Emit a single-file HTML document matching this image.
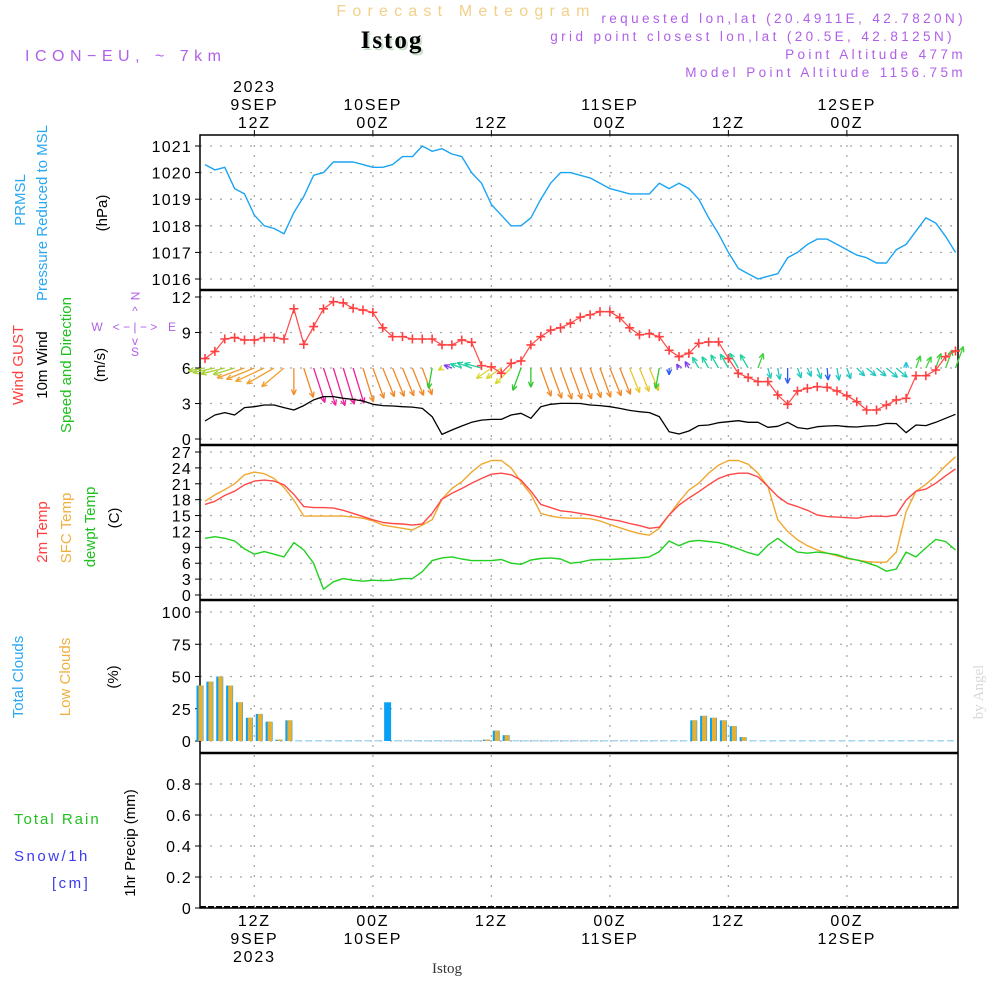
<!DOCTYPE html>
<html><head><meta charset="utf-8"><title>Forecast Meteogram - Istog</title>
<style>
html,body{margin:0;padding:0;background:#fff;}
body{width:1000px;height:1000px;overflow:hidden;}
svg text{font-family:"Liberation Sans",sans-serif;}
</style></head>
<body>
<svg id="chart" width="1000" height="1000" viewBox="0 0 1000 1000" xmlns="http://www.w3.org/2000/svg">
  <text x="466" y="16" text-anchor="middle" font-size="16" fill="#f3d08a" letter-spacing="6.2">Forecast Meteogram</text>
  <text x="394" y="50" text-anchor="middle" font-size="25" font-weight="bold" fill="#c8dcc8" letter-spacing="2" style="font-family:'Liberation Serif',serif">Istog</text>
  <text x="392" y="48" text-anchor="middle" font-size="25" font-weight="bold" fill="#000" letter-spacing="2" style="font-family:'Liberation Serif',serif">Istog</text>
  <text x="25" y="61" font-size="16" fill="#b060e8" letter-spacing="5.5">ICON−EU, ~ 7km</text>
  <g font-size="13.5" fill="#b060e8" text-anchor="end" letter-spacing="3.4">
    <text x="966" y="23">requested lon,lat (20.4911E, 42.7820N)</text>
    <text x="955" y="41">grid point closest lon,lat (20.5E, 42.8125N)</text>
    <text x="966" y="59">Point Altitude 477m</text>
    <text x="966" y="77">Model Point Altitude 1156.75m</text>
  </g>
  <g font-size="15">
    <text transform="translate(25,200) rotate(-90)" text-anchor="middle" fill="#2aa8f0">PRMSL</text>
    <text transform="translate(47,213) rotate(-90)" text-anchor="middle" fill="#2aa8f0">Pressure Reduced to MSL</text>
    <text transform="translate(107,213) rotate(-90)" text-anchor="middle" fill="#000">(hPa)</text>
    <text transform="translate(23,365) rotate(-90)" text-anchor="middle" fill="#ff4040">Wind GUST</text>
    <text transform="translate(47,365) rotate(-90)" text-anchor="middle" fill="#000">10m Wind</text>
    <text transform="translate(71,365) rotate(-90)" text-anchor="middle" fill="#20c020">Speed and Direction</text>
    <text transform="translate(105,365) rotate(-90)" text-anchor="middle" fill="#000">(m/s)</text>
    <text transform="translate(47,532) rotate(-90)" text-anchor="middle" fill="#ff4040">2m Temp</text>
    <text transform="translate(71,528) rotate(-90)" text-anchor="middle" fill="#f0b040">SFC Temp</text>
    <text transform="translate(95,527) rotate(-90)" text-anchor="middle" fill="#20c020">dewpt Temp</text>
    <text transform="translate(119,518) rotate(-90)" text-anchor="middle" fill="#000">(C)</text>
    <text transform="translate(23,677) rotate(-90)" text-anchor="middle" fill="#2aa8f0">Total Clouds</text>
    <text transform="translate(70,677) rotate(-90)" text-anchor="middle" fill="#f0b040">Low Clouds</text>
    <text transform="translate(118,677) rotate(-90)" text-anchor="middle" fill="#000">(%)</text>
    <text x="14" y="824" fill="#20c020" letter-spacing="2">Total  Rain</text>
    <text x="14" y="861" fill="#3a3af0" letter-spacing="2.5">Snow/1h</text>
    <text x="52" y="888" fill="#3a3af0" letter-spacing="2.5">[cm]</text>
    <text transform="translate(135,843) rotate(-90)" text-anchor="middle" fill="#000">1hr Precip (mm)</text>
  </g>
  <g fill="#b060e8" font-size="12" text-anchor="middle">
    <text transform="translate(135,296) rotate(90)" text-anchor="middle" y="4">N</text>
    <text x="135" y="315">^</text>
    <text x="135" y="331">&lt; − | − &gt;</text>
    <text x="97" y="331">W</text>
    <text x="172" y="331">E</text>
    <text x="135" y="345">v</text>
    <text x="135" y="356">S</text>
  </g>
  <text x="447" y="973" text-anchor="middle" font-size="15" fill="#333" style="font-family:'Liberation Serif',serif">Istog</text>
  <text transform="translate(983,692) rotate(-90)" text-anchor="middle" font-size="15" fill="#d8d8d8" style="font-family:'Liberation Serif',serif">by Angel</text>
  <g id="plot"></g>
</svg>
<script>
// ---- data (hourly, starting 9 SEP 07Z) ----
const pressure = [1020.3,1020.1,1020.2,1019.4,1019.2,1018.4,1018.0,1017.9,1017.7,1018.5,1019.1,1019.9,1020.0,1020.4,1020.4,1020.4,1020.3,1020.2,1020.2,1020.3,1020.6,1020.6,1021.0,1020.8,1020.9,1020.7,1020.6,1020.0,1019.6,1018.8,1018.4,1018.0,1018.0,1018.3,1019.0,1019.6,1020.0,1020.0,1019.9,1019.8,1019.6,1019.4,1019.3,1019.2,1019.2,1019.2,1019.6,1019.4,1019.6,1019.4,1019.0,1018.3,1017.7,1017.0,1016.4,1016.2,1016.0,1016.1,1016.2,1016.8,1017.0,1017.3,1017.5,1017.5,1017.3,1017.1,1016.9,1016.8,1016.6,1016.6,1017.1,1017.3,1017.8,1018.3,1018.1,1017.6,1017.0];
const gust = [6.8,7.4,8.45,8.57,8.37,8.37,8.57,8.57,8.45,11.0,8.0,9.5,11.0,11.6,11.5,11.05,10.9,10.7,9.4,8.65,8.65,8.45,8.45,8.45,7.95,7.95,8.37,8.17,6.2,6.1,5.55,6.4,6.6,7.95,8.65,9.2,9.4,9.78,10.3,10.5,10.76,10.76,10.25,9.4,8.8,8.9,8.65,7.5,6.96,7.24,8.09,8.2,8.2,6.8,5.55,5.2,4.85,4.85,3.72,2.93,4.06,4.28,4.42,4.37,4.06,3.66,3.15,2.45,2.45,2.87,3.3,3.44,5.35,5.35,5.83,6.96,7.44];
const windSpeed = [1.52,2.03,2.23,2.03,2.65,2.73,2.87,2.87,2.65,2.45,2.82,3.3,3.58,3.58,3.44,3.35,3.21,2.93,2.82,2.79,2.73,2.7,2.59,1.89,0.39,0.76,1.1,1.41,1.6,1.66,1.66,2.03,2.17,1.75,2.73,2.93,3.01,3.01,3.0,2.87,2.82,2.73,2.59,2.42,2.31,2.23,1.89,0.62,0.42,0.68,1.13,1.18,1.38,1.46,1.55,1.41,1.41,0.99,1.07,1.41,0.96,0.85,1.04,1.1,1.13,1.04,1.01,1.1,1.13,1.32,1.3,0.53,1.18,1.13,1.41,1.75,2.09];
const windDirTo = [260,258,256,253,250,248,245,240,230,180,162,162,162,163,163,163,163,160,158,158,158,158,160,190,240,290,290,290,285,235,235,225,200,180,160,160,160,160,160,160,160,158,158,158,158,158,190,180,330,330,330,330,330,330,330,330,20,165,170,180,160,155,160,175,170,160,135,130,130,130,130,0,20,25,20,20,20];
const temp2m = [17.1,17.7,18.8,19.6,20.8,21.5,21.7,21.5,20.8,19.0,16.7,16.5,16.5,16.4,16.0,15.4,14.8,14.2,13.7,13.5,13.4,13.2,13.4,15.4,18.1,19.2,20.1,21.1,22.0,22.8,23.0,22.7,21.7,19.6,17.1,16.5,15.9,15.7,15.4,15.1,14.7,14.3,14.0,13.5,13.1,12.6,12.8,15.1,17.0,18.3,19.5,20.8,22.0,22.7,23.0,23.0,22.3,20.5,18.6,17.3,16.7,16.0,15.1,14.8,14.7,14.6,14.5,14.8,14.9,14.8,15.1,17.9,19.6,20.0,21.1,22.5,23.8];
const tempSfc = [17.7,18.9,19.9,21.0,22.7,23.2,22.9,22.0,20.3,17.9,14.9,14.9,14.9,14.9,14.9,14.7,14.5,14.0,13.2,12.9,12.6,12.3,13.2,14.2,18.1,20.1,21.4,23.2,24.7,25.4,25.4,24.0,21.4,19.0,15.4,14.9,14.6,14.5,14.5,14.4,14.0,13.3,12.7,12.1,11.6,11.3,12.6,15.1,17.6,19.8,21.1,23.0,24.5,25.4,25.4,24.7,23.0,20.5,14.2,12.0,10.4,9.3,8.5,7.9,7.4,6.9,6.6,6.3,6.2,6.2,8.1,15.7,19.6,20.9,22.5,24.4,26.1];
const dewpt = [10.7,11.0,10.7,10.2,8.7,7.7,8.2,7.7,7.2,9.9,8.5,6.0,1.1,2.5,3.1,2.8,2.6,2.8,2.7,2.8,3.1,3.1,4.4,6.5,7.0,7.2,6.8,6.5,6.5,6.5,6.7,6.0,5.8,6.6,6.9,7.0,6.8,6.0,6.2,6.6,6.7,6.7,6.8,6.9,7.0,7.2,8.2,10.2,9.3,10.1,10.3,10.1,9.9,9.4,8.7,8.0,7.5,9.4,10.7,9.3,8.1,7.9,8.1,7.9,7.6,7.0,6.6,6.1,5.5,4.5,4.9,8.1,7.2,8.9,10.5,10.1,8.5];
const totalClouds = [43,46,50,43,30,18,21,15,1,16,0,0,0,0,0,0,0,0,0,30,0,0,0,0,0,0,0,0,0,1,8,4.5,0,0,0,0,0,0,0,0,0,0,0,0,0,0,0,0,0,0,16,19.5,18,16,11.5,3,0,0,0,0,0,0,0,0,0,0,0,0,0,0,0,0,0,0,0,0,0];
const lowClouds = [43,46,50,43,30,18,21,15,1,16,0,0,0,0,0,0,0,0,0,0,0,0,0,0,0,0,0,0,0,1,8,4.5,0,0,0,0,0,0,0,0,0,0,0,0,0,0,0,0,0,0,16,19.5,18,16,11.5,3,0,0,0,0,0,0,0,0,0,0,0,0,0,0,0,0,0,0,0,0,0];
const precip = [0,0,0,0,0,0,0,0,0,0,0,0,0,0,0,0,0,0,0,0,0,0,0,0,0,0,0,0,0,0,0,0,0,0,0,0,0,0,0,0,0,0,0,0,0,0,0,0,0,0,0,0,0,0,0,0,0,0,0,0,0,0,0,0,0,0,0,0,0,0,0,0,0,0,0,0,0];
const tickIndex = [5,17,29,41,53,65];
const topTickLabels = [["2023","9SEP","12Z"],["","10SEP","00Z"],["","","12Z"],["","11SEP","00Z"],["","","12Z"],["","12SEP","00Z"]];
const bottomTickLabels = [["12Z","9SEP","2023"],["00Z","10SEP",""],["12Z","",""],["00Z","11SEP",""],["12Z","",""],["00Z","12SEP",""]];
const pressureTicks = [1016,1017,1018,1019,1020,1021];
const windTicks = [0,3,6,9,12];
const tempTicks = [0,3,6,9,12,15,18,21,24,27];
const cloudTicks = [0,25,50,75,100];
const precipTicks = [0,0.2,0.4,0.6,0.8];

const NS = "http://www.w3.org/2000/svg";
const plot = document.getElementById('plot');
const XL = 200, XR = 958;
function X(i){ return 205 + 9.875*i; }
function lin(v0,y0,v1,y1){ return v => y0 + (v-v0)*(y1-y0)/(v1-v0); }
const yP = lin(1016,279,1021,146);
const yW = lin(0,439,12,297);
const yT = lin(0,595,27,452);
const yC = lin(0,741,100,612);
const yR = lin(0,908,0.8,784);
function mk(tag, attrs, parent){
  const e = document.createElementNS(NS, tag);
  for (const k in attrs) e.setAttribute(k, attrs[k]);
  (parent||plot).appendChild(e);
  return e;
}
function hgrid(ticks, fy, name, fmt){
  ticks.forEach(t => {
    const y = fy(t);
    const g = mk('line',{x1:XL,x2:XR,y1:y,y2:y,stroke:'#a8a8a8','stroke-width':1.3,'stroke-dasharray':'2,8'});
    
    
    const tk = mk('line',{x1:XL-5,x2:XL,y1:y,y2:y,stroke:'#000','stroke-width':1});
    
    
    const tx = mk('text',{x:XL-8,y:y+6,'text-anchor':'end','font-size':16,fill:'#000','letter-spacing':1.2});
    tx.textContent = fmt ? fmt(t) : String(t);
    
    
  });
}
hgrid(pressureTicks, yP, 'pressure-axis');
hgrid(windTicks, yW, 'wind-axis');
hgrid(tempTicks, yT, 'temp-axis');
hgrid(cloudTicks, yC, 'cloud-axis');
hgrid(precipTicks, yR, 'precip-axis', t => t===0 ? '0' : t.toFixed(1));
tickIndex.forEach((ti,k) => {
  const x = X(ti);
  const v = mk('line',{x1:x,x2:x,y1:135,y2:908,stroke:'#a8a8a8','stroke-width':1.3,'stroke-dasharray':'2,8'});
  
  
  const t1 = mk('line',{x1:x,x2:x,y1:130,y2:135,stroke:'#000'});
  
  
  topTickLabels[k].forEach((s,j) => {
    if (!s) return;
    const t = mk('text',{x:x,y:92+j*18,'text-anchor':'middle','font-size':16,fill:'#000','letter-spacing':1.8});
    t.textContent = s;
    
    
  });
  bottomTickLabels[k].forEach((s,j) => {
    if (!s) return;
    const t = mk('text',{x:x,y:926+j*18,'text-anchor':'middle','font-size':16,fill:'#000','letter-spacing':1.8});
    t.textContent = s;
    
    
  });
});
const fr = mk('rect',{x:XL,y:135,width:XR-XL,height:773,fill:'none',stroke:'#000','stroke-width':1.5});


[290,445,600,753].forEach(y => {
  const l = mk('line',{x1:XL,x2:XR,y1:y,y2:y,stroke:'#000','stroke-width':2.5});
  
  
});
const base = mk('line',{x1:XL,x2:XR,y1:907,y2:907,stroke:'#000','stroke-width':2,'stroke-dasharray':'6,2'});



function series(arr, fy, color, name, w){
  const d = arr.map((v,i) => (i?'L':'M') + X(i).toFixed(1) + ',' + fy(v).toFixed(1)).join('');
  const p = mk('path',{d:d,fill:'none',stroke:color,'stroke-width':w||1.4,'stroke-linejoin':'round'});
  
  
  return p;
}
series(pressure, yP, '#1aa4f4', 'pressure-line');

totalClouds.forEach((c,i) => {
  const x = X(i);
  if (c <= 0) {
    const z = mk('rect',{x:x-8.5,y:yC(0)-1,width:7,height:1.5,fill:'#a8d8f0'});
    
    
    return;
  }
  const hb = Math.max(1, yC(0)-yC(c));
  const b = mk('rect',{x:x-8.5,y:yC(0)-hb,width:7,height:hb,fill:'#0aa0f4'});
  
  
  if (lowClouds[i] > 0) {
    const lh = yC(0)-yC(lowClouds[i]);
    const o = mk('rect',{x:x-6.5,y:yC(0)-lh,width:4.5,height:lh,fill:'#e8b030'});
    
    
  }
});
precip.forEach((p,i) => {
  if (p <= 0) return;
  const b = mk('rect',{x:X(i)-8,y:yR(p),width:7,height:yR(0)-yR(p),fill:'#20c020'});
  
  
});

function arrowColor(d, s){
  if (d >= 252 && d < 275) return '#a8d038';
  if (d >= 215 && d < 252) return s < 2.1 ? '#d8d830' : '#f0a030';
  if (d >= 175 && d < 215) return s > 2.2 ? '#f08c28' : (s > 1.5 ? '#30c830' : '#2a5af0');
  if (d >= 150 && d < 175) return s > 3.25 ? '#f0209a' : (s > 2.5 ? '#f08828' : (s > 1.8 ? '#e8c830' : '#20c8c0'));
  if (d >= 120 && d < 150) return '#20c8c0';
  if (d >= 280 && d < 345) return s < 0.8 ? '#8040f0' : '#20d0a0';
  if (d >= 345 || d < 15) return '#20c0e0';
  return '#40d040';
}
const y6 = yW(6);
windDirTo.forEach((d,i) => {
  const s = windSpeed[i];
  const L = s * 11;
  const r = d*Math.PI/180;
  const x0 = X(i), x1 = x0 + Math.sin(r)*L, y1 = y6 - Math.cos(r)*L;
  const col = arrowColor(d, s);
  const g = mk('g',{stroke:col,'stroke-width':1.3,fill:'none'});
  
  
  mk('line',{x1:x0,y1:y6,x2:x1,y2:y1},g);
  const hl = 6;
  [0.42,-0.42].forEach(a => {
    const rr = r + Math.PI + a;
    mk('line',{x1:x1,y1:y1,x2:x1+Math.sin(rr)*hl,y2:y1-Math.cos(rr)*hl},g);
  });
});
series(windSpeed, yW, '#000', 'wind-speed-line', 1.3);
series(gust, yW, '#ff4848', 'gust-line', 1.2);
gust.forEach((v,i) => {
  const x = X(i), y = yW(v);
  const m = mk('path',{d:`M${x-4.5},${y}H${x+4.5}M${x},${y-4.5}V${y+4.5}`,stroke:'#ff4040','stroke-width':1.6});
  
  
});
series(tempSfc, yT, '#f0a830', 'sfc-temp-line');
series(temp2m, yT, '#ff4848', 'temp-2m-line');
series(dewpt, yT, '#20d020', 'dewpoint-line');
</script>
</body></html>
